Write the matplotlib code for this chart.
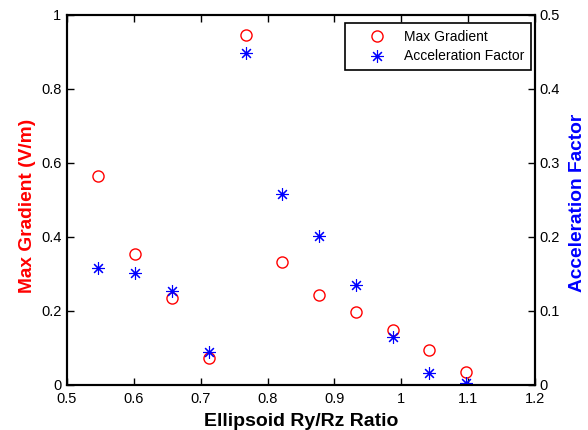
import numpy as np
import matplotlib
matplotlib.use('Agg')
import matplotlib.pyplot as plt

plt.rcParams['font.family'] = ['Liberation Sans', 'DejaVu Sans']

ratio = [0.547, 0.602, 0.657, 0.712, 0.767, 0.822, 0.877, 0.932, 0.987, 1.042, 1.097]
max_gradient = [0.565, 0.355, 0.234, 0.073, 0.946, 0.332, 0.243, 0.197, 0.150, 0.095, 0.035]
accel_factor = [0.158, 0.151, 0.127, 0.044, 0.448, 0.258, 0.202, 0.135, 0.065, 0.016, 0.003]

xticks = [0.5, 0.6, 0.7, 0.8, 0.9, 1.0, 1.1, 1.2]
xticklabels = ['0.5', '0.6', '0.7', '0.8', '0.9', '1', '1.1', '1.2']
lticks = [0, 0.2, 0.4, 0.6, 0.8, 1]
lticklabels = ['0', '0.2', '0.4', '0.6', '0.8', '1']
rticks = [0, 0.1, 0.2, 0.3, 0.4, 0.5]
rticklabels = ['0', '0.1', '0.2', '0.3', '0.4', '0.5']

fig = plt.figure(figsize=(5.88, 4.30), dpi=100)
ax = fig.add_axes([67/588, 45/430, 468/588, 370/430])
ax2 = ax.twinx()

h1, = ax.plot(ratio, max_gradient, 'o', mfc='none', mec='#ff0000', ms=8,
              mew=1.0, label='Max Gradient')
h2, = ax2.plot(ratio, accel_factor, marker=(8, 2, 0), ls='none', color='#0000ff',
               ms=9, mew=0.8, label='Acceleration Factor')

ax.set_xlim(0.5, 1.2)
ax.set_ylim(0, 1)
ax2.set_ylim(0, 0.5)
ax.set_xticks(xticks, xticklabels)
ax.set_yticks(lticks, lticklabels)
ax2.set_yticks(rticks, rticklabels)

for a in (ax, ax2):
    a.tick_params(direction='in', length=5, width=1.0, labelsize=10.5, colors='black')
    for s in a.spines.values():
        s.set_linewidth(1.5)
ax.tick_params(axis='x', top=True, pad=5)
ax.tick_params(axis='y', pad=4)
ax2.tick_params(axis='y', pad=3)

ax.set_xlabel('Ellipsoid Ry/Rz Ratio', fontsize=14, fontweight='bold', labelpad=5)
ax.set_ylabel('Max Gradient (V/m)', fontsize=13.8, fontweight='bold', color='#ff0000', labelpad=4)
ax2.set_ylabel('Acceleration Factor', fontsize=13.8, fontweight='bold', color='#0000ff', labelpad=7)
ax.yaxis.label.set_y(0.485)
ax2.yaxis.label.set_y(0.493)

# legend box sits 4 px from the right spine and 8 px below the top one
leg = ax2.legend([h1, h2], ['Max Gradient', 'Acceleration Factor'], loc='upper right',
                 bbox_to_anchor=(1 - 4/468, 1 - 8/370), borderaxespad=0,
                 fontsize=10, fancybox=False, framealpha=1, edgecolor='black',
                 handlelength=3.6, handletextpad=0.1,
                 borderpad=0.5, labelspacing=0.4)
leg.get_frame().set_linewidth(1.2)

fig.savefig('out.png', dpi=100)
